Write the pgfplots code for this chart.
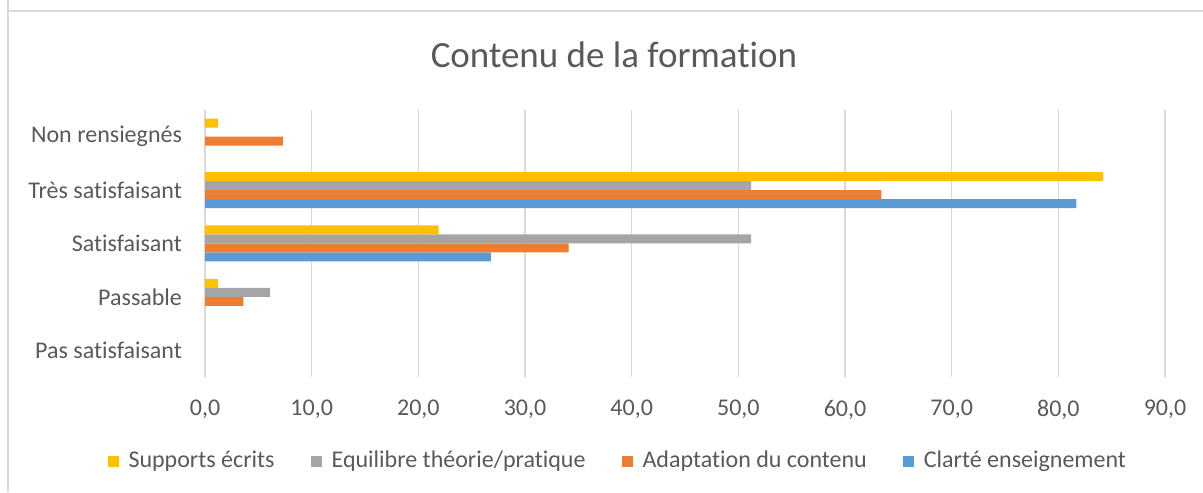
\documentclass[border=0pt]{standalone}
\usepackage{fontspec}
\setmainfont{Carlito}[Ligatures=NoCommon]
\usepackage{pgfplots}
\pgfplotsset{compat=1.18}
\definecolor{cyel}{HTML}{FFC000}
\definecolor{cgray}{HTML}{A5A5A5}
\definecolor{corange}{HTML}{ED7D31}
\definecolor{cblue}{HTML}{5B9BD5}
\definecolor{ctext}{HTML}{595959}
\definecolor{cgrid}{HTML}{D9D9D9}
\begin{document}
\begin{tikzpicture}
\useasboundingbox (0,0) rectangle (601.5pt,246pt);
\draw[color=cgrid, line width=0.6pt] (4pt,0) -- (4pt,246pt);
\draw[color=cgrid, line width=0.6pt] (4pt,240.5pt) -- (601.5pt,240.5pt);
\node[text=ctext, font=\fontsize{18.5}{22}\selectfont] at (307pt,218.5pt) {Contenu de la formation};
\begin{axis}[
  at={(102.5pt,57.5pt)}, anchor=south west,
  scale only axis, width=480pt, height=133.5pt,
  xbar=0pt, bar width=4.5pt,
  xmin=0, xmax=90, xtick={0,10,...,90},
  ymin=-0.5, ymax=4.5, ytick={0,1,2,3,4},
  yticklabels={Pas satisfaisant, Passable, Satisfaisant, Très satisfaisant, Non rensiegnés},
  axis line style={draw=none},
  major tick length=0pt, tick style={draw=none},
  xmajorgrids, grid style={color=cgrid, line width=0.8pt},
  ticklabel style={text=ctext, font=\fontsize{12}{14}\selectfont},
  xticklabel style={yshift=-8pt},
  yticklabel style={xshift=-8pt},
  /pgf/number format/.cd, fixed, fixed zerofill, precision=1, use comma, assume math mode=true,
  /pgfplots/.cd,
  reverse legend,
  legend columns=4,
  legend style={at={(0.431,-0.3146)}, anchor=center, draw=none, fill=none,
    font=\fontsize{12}{14}\selectfont, text=ctext,
    /tikz/every even column/.append style={column sep=16pt}},
  legend image code/.code={\draw[#1, draw=none] (0pt,-2.75pt) rectangle (5.5pt,2.75pt); \path (8.5pt,0pt);},
]
\addplot[fill=cblue, draw=none] coordinates {(81.7,3) (26.8,2)};
\addplot[fill=corange, draw=none] coordinates {(7.3,4) (63.4,3) (34.1,2) (3.6,1)};
\addplot[fill=cgray, draw=none] coordinates {(51.2,3) (51.2,2) (6.1,1)};
\addplot[fill=cyel, draw=none] coordinates {(1.2,4) (84.2,3) (21.9,2) (1.2,1)};
\legend{Clarté enseignement, Adaptation du contenu, Equilibre théorie/pratique, Supports écrits}
\end{axis}
\end{tikzpicture}
\end{document}
